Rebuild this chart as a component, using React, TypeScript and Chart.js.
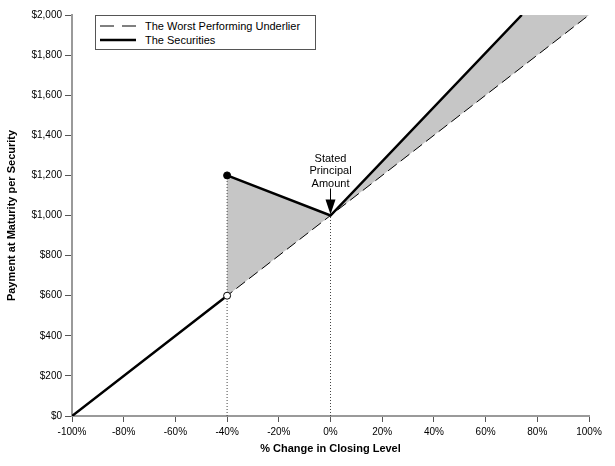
import React, { useEffect, useRef } from "react";
import { Chart, registerables } from "chart.js";

Chart.register(...registerables);

// values
const underlierX = [-100, 100];
const underlierY = [0, 2000];
const securitiesX = [-100, -40, -40, -40, 0, 74];
const securitiesY = [0, 600, null, 1200, 1000, 2000];
const shadeX = [-40, 0, 74, 100];
const shadeLowY = [600, 1000, 1740, 2000];
const shadeHighY = [1200, 1000, 2000, 2000];
const markerX = [-40, -40];
const markerY = [1200, 600];
const markerFill = ["#000000", "#ffffff"];
const dropX = [-40, 0];
const dropTopY = [1200, 1000];
const xTicks = [-100, -80, -60, -40, -20, 0, 20, 40, 60, 80, 100];
const yTicks = [0, 200, 400, 600, 800, 1000, 1200, 1400, 1600, 1800, 2000];
const annotationLines = ["Stated", "Principal", "Amount"];
const annotationAt = { x: 0, y: 1000 };

const FONT = "'Liberation Sans', Arial, sans-serif";

const pts = (xs: number[], ys: (number | null)[]) =>
  xs.map((x, i) => ({ x, y: ys[i] }));

const annotationPlugin = {
  id: "principalNote",
  afterDatasetsDraw(chart: any) {
    const { ctx, scales } = chart;
    const px = scales.x.getPixelForValue(annotationAt.x);
    const py = scales.y.getPixelForValue(annotationAt.y);
    ctx.save();
    ctx.fillStyle = "#000";
    ctx.font = `11px ${FONT}`;
    ctx.textAlign = "center";
    ctx.textBaseline = "middle";
    annotationLines.forEach((t, i) => {
      ctx.fillText(t, px, py - 57 + i * 12.5);
    });
    // arrow
    ctx.strokeStyle = "#000";
    ctx.lineWidth = 1;
    ctx.beginPath();
    ctx.moveTo(px, py - 27);
    ctx.lineTo(px, py - 12);
    ctx.stroke();
    ctx.beginPath();
    ctx.moveTo(px - 5, py - 16);
    ctx.lineTo(px + 5, py - 16);
    ctx.lineTo(px, py - 1);
    ctx.closePath();
    ctx.fill();
    ctx.restore();
  },
};

const App: React.FC = () => {
  const chartRef = useRef<HTMLCanvasElement>(null);
  const chartInstance = useRef<Chart | null>(null);

  useEffect(() => {
    document.body.style.margin = "0";
    if (!chartRef.current) return;
    const ctx = chartRef.current.getContext("2d");
    if (!ctx) return;
    if (chartInstance.current) chartInstance.current.destroy();

    chartInstance.current = new Chart(ctx, {
      type: "line",
      data: {
        datasets: [
          {
            label: "shadeLow",
            data: pts(shadeX, shadeLowY),
            borderWidth: 0,
            pointRadius: 0,
            fill: false,
            order: 10,
          },
          {
            label: "shadeHigh",
            data: pts(shadeX, shadeHighY),
            borderWidth: 0,
            pointRadius: 0,
            fill: "-1",
            backgroundColor: "#c6c6c6",
            order: 9,
          },
          ...dropX.map((x, i) => ({
            label: "drop" + i,
            data: pts([x, x], [0, dropTopY[i]]),
            borderColor: "#444",
            borderWidth: 1,
            borderDash: [1, 2],
            pointRadius: 0,
            fill: false,
            order: 8,
          })),
          {
            label: "The Worst Performing Underlier",
            data: pts(underlierX, underlierY),
            borderColor: "#000",
            borderWidth: 1,
            borderDash: [11, 5],
            pointRadius: 0,
            fill: false,
            order: 5,
          },
          {
            label: "The Securities",
            data: pts(securitiesX, securitiesY),
            borderColor: "#000",
            borderWidth: 2.5,
            pointRadius: 0,
            spanGaps: false,
            fill: false,
            order: 4,
          },
          {
            label: "markers",
            data: pts(markerX, markerY),
            showLine: false,
            pointRadius: 3.5,
            pointBackgroundColor: markerFill,
            pointBorderColor: "#000",
            pointBorderWidth: 1,
            order: 1,
          },
        ],
      },
      options: {
        animation: false,
        responsive: true,
        maintainAspectRatio: false,
        layout: { padding: { top: 15, right: 26, left: 0, bottom: 0 } },
        plugins: {
          legend: { display: false },
          tooltip: { enabled: false },
        },
        scales: {
          x: {
            type: "linear",
            min: -100,
            max: 100,
            afterBuildTicks: (s: any) => {
              s.ticks = xTicks.map((v) => ({ value: v }));
            },
            afterFit: (s: any) => {
              s.height = 50;
            },
            ticks: {
              color: "#000",
              font: { family: FONT, size: 10 },
              padding: 4,
              maxRotation: 0,
              autoSkip: false,
              callback: (v: any) => v + "%",
            },
            grid: {
              drawOnChartArea: false,
              drawTicks: true,
              tickLength: 6,
              color: "#555",
              lineWidth: 1,
            },
            border: { display: true, color: "#9a9a9a", width: 2 },
            title: {
              display: true,
              text: "% Change in Closing Level",
              color: "#000",
              font: { family: FONT, size: 11, weight: "bold" },
              padding: { top: 0, bottom: 10 },
            },
          },
          y: {
            type: "linear",
            min: 0,
            max: 2000,
            afterBuildTicks: (s: any) => {
              s.ticks = yTicks.map((v) => ({ value: v }));
            },
            afterFit: (s: any) => {
              s.width = 72;
            },
            ticks: {
              color: "#000",
              font: { family: FONT, size: 10 },
              padding: 3,
              autoSkip: false,
              callback: (v: any) => "$" + Number(v).toLocaleString("en-US"),
            },
            grid: {
              drawOnChartArea: false,
              drawTicks: true,
              tickLength: 7,
              color: "#555",
              lineWidth: 1,
            },
            border: { display: true, color: "#9a9a9a", width: 2 },
            title: {
              display: true,
              text: "Payment at Maturity per Security",
              color: "#000",
              font: { family: FONT, size: 11, weight: "bold" },
              padding: { top: 5, bottom: 0 },
            },
          },
        },
      },
      plugins: [annotationPlugin],
    });

    return () => {
      if (chartInstance.current) {
        chartInstance.current.destroy();
        chartInstance.current = null;
      }
    };
  }, []);

  return (
    <div
      style={{
        position: "relative",
        width: 615,
        height: 466,
        background: "#fff",
        fontFamily: FONT,
      }}
    >
      <canvas ref={chartRef}></canvas>
      <div
        style={{
          position: "absolute",
          left: 95,
          top: 15,
          width: 221,
          height: 35,
          boxSizing: "border-box",
          border: "1px solid #555",
          background: "#fff",
          fontSize: 11,
          color: "#000",
        }}
      >
        <div style={{ display: "flex", alignItems: "center", height: 14, marginTop: 3 }}>
          <svg width={36} height={4} style={{ marginLeft: 4, marginRight: 9 }}>
            <line x1={0} y1={2} x2={36} y2={2} stroke="#000" strokeWidth={1} strokeDasharray="14 8" />
          </svg>
          <span>The Worst Performing Underlier</span>
        </div>
        <div style={{ display: "flex", alignItems: "center", height: 14 }}>
          <svg width={36} height={4} style={{ marginLeft: 4, marginRight: 9 }}>
            <line x1={0} y1={2} x2={36} y2={2} stroke="#000" strokeWidth={2.5} />
          </svg>
          <span>The Securities</span>
        </div>
      </div>
    </div>
  );
};

export default App;
